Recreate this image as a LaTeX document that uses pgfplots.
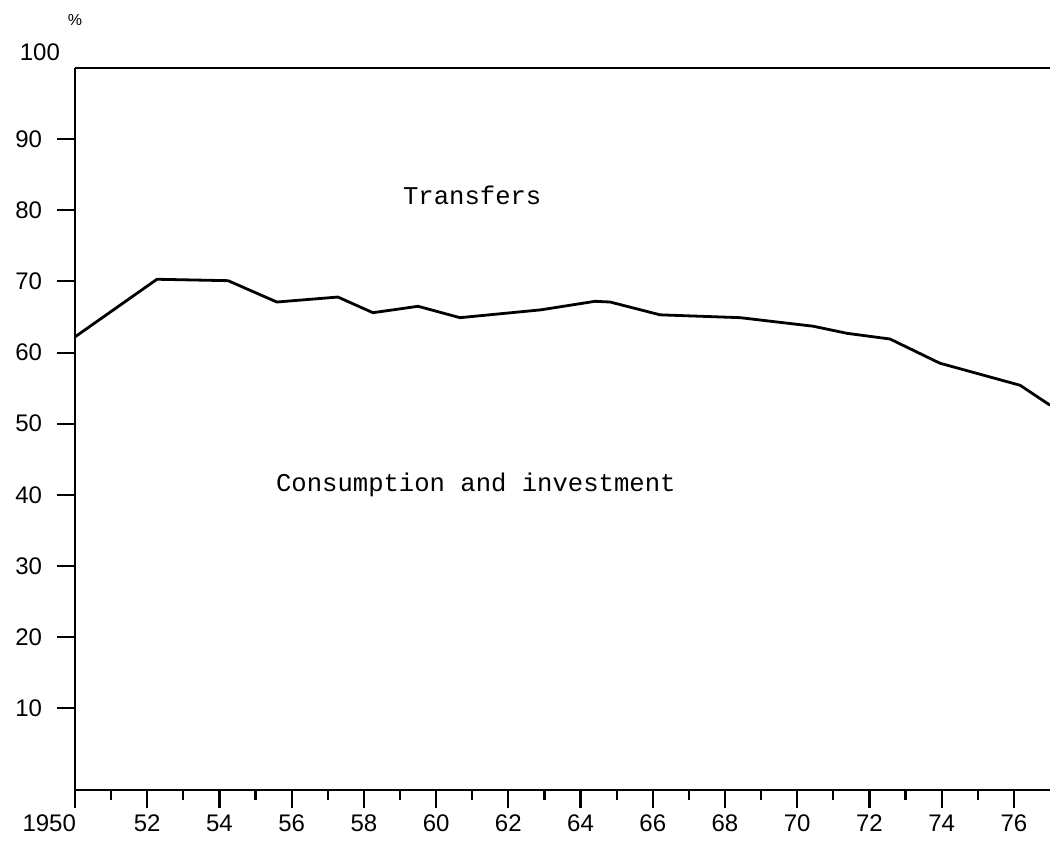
\documentclass[border=0pt]{standalone}
\usepackage{fontspec}
\setmainfont{Liberation Sans}
\newfontfamily\typew{Liberation Mono}
\usepackage{pgfplots}
\pgfplotsset{compat=1.18}
\begin{document}
\begin{tikzpicture}
\useasboundingbox (-37.5pt,-31pt) rectangle (487.5pt,395pt);
\begin{axis}[
  at={(0,0)}, anchor=south west,
  scale only axis, width=487.5pt, height=361pt,
  xmin=1950, xmax=1977, ymin=-1.5, ymax=100,
  axis x line*=bottom, axis y line*=left,
  axis line style={line width=1.3pt, -},
  xtick={1952,1954,...,1976},
  xticklabels={52,54,56,58,60,62,64,66,68,70,72,74,76},
  minor xtick={1951,1953,...,1975},
  extra x ticks={1950},
  extra x tick labels={1950},
  extra x tick style={xticklabel style={anchor=north east, xshift=4pt}},
  xtick align=outside,
  major tick length=9pt, minor tick length=5pt,
  x tick style={line width=1.1pt, black},
  minor x tick style={line width=1.1pt, black},
  ytick={10,20,...,90},
  extra y ticks={100},
  extra y tick style={yticklabel style={yshift=8pt}, major tick length=0pt},
  y tick style={line width=1pt, black},
  ytick align=outside,
  yticklabel style={xshift=-4pt},
  tick label style={font=\fontsize{12}{14}\selectfont},
  /pgf/number format/assume math mode=true,
  /pgf/number format/1000 sep={},
  clip=false,
]
\addplot[black, line width=1.3pt] coordinates {(1950,100) (1977,100)};
\addplot[black, line width=1.4pt] coordinates {
(1950,62.2) (1952.27,70.3) (1954.24,70.1) (1955.59,67.1) (1957.28,67.8)
(1958.25,65.6) (1959.5,66.5) (1960.66,64.9) (1962.9,66.0) (1964.4,67.2)
(1964.82,67.1) (1966.2,65.3) (1968.42,64.9) (1970.44,63.7) (1971.38,62.7)
(1972.57,61.9) (1973.95,58.5) (1976.17,55.4) (1977,52.6)};
\node[font=\typew\fontsize{12.8}{15}\selectfont] at (axis cs:1961.0,82.1) {Transfers};
\node[font=\typew\fontsize{12.8}{15}\selectfont] at (axis cs:1961.1,41.4) {Consumption and investment};
\node[font=\fontsize{8}{9}\selectfont] at ([yshift=24pt]rel axis cs:0,1) {\%};
\end{axis}
\end{tikzpicture}
\end{document}
